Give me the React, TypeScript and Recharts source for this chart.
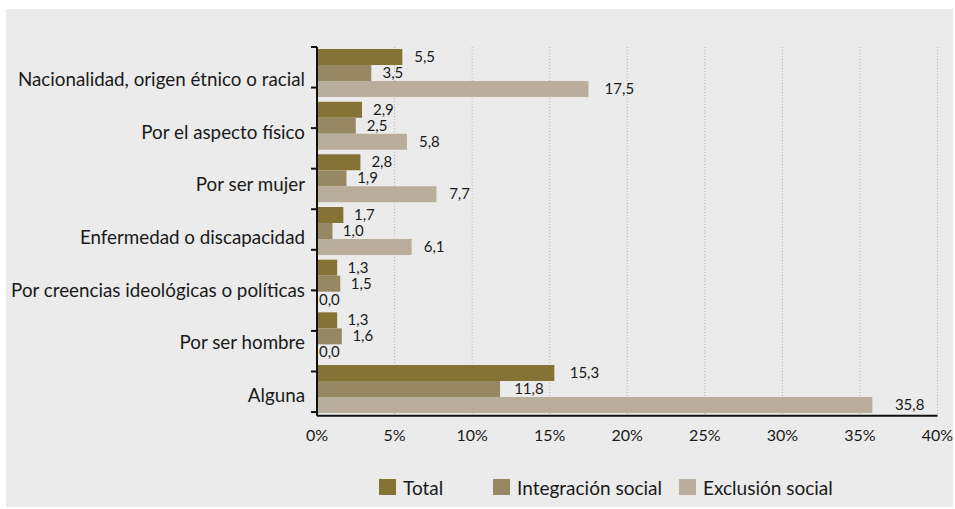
import React from "react";
import { BarChart, Bar, XAxis, YAxis, CartesianGrid, LabelList } from "recharts";

const categories = [
  "Nacionalidad, origen étnico o racial",
  "Por el aspecto físico",
  "Por ser mujer",
  "Enfermedad o discapacidad",
  "Por creencias ideológicas o políticas",
  "Por ser hombre",
  "Alguna",
];
const total = [5.5, 2.9, 2.8, 1.7, 1.3, 1.3, 15.3];
const integracion = [3.5, 2.5, 1.9, 1.0, 1.5, 1.6, 11.8];
const exclusion = [17.5, 5.8, 7.7, 6.1, 0.0, 0.0, 35.8];
const xTicks = [0, 5, 10, 15, 20, 25, 30, 35, 40];
const yTickMarks = [0, 1, 2, 3, 4, 5, 6, 7, 8, 9];

const series = [
  { key: "total", name: "Total", color: "#857336" },
  { key: "integracion", name: "Integración social", color: "#968862" },
  { key: "exclusion", name: "Exclusión social", color: "#b8ae9b" },
];

const data = categories.map((c, i) => ({
  name: c,
  total: total[i],
  integracion: integracion[i],
  exclusion: exclusion[i],
}));

const FONT = "Lato, 'Noto Sans', sans-serif";
const MARGIN = { top: 47, right: 17.5, bottom: 63.3, left: 0 };

const fmt = (v: number) => v.toFixed(1).replace(".", ",");

const CatTick = (props: any) => {
  const { x, y, payload } = props;
  return (
    <text x={x} y={y + 5} textAnchor="end" dominantBaseline="central" fontFamily={FONT} fontSize={18.8} fill="#1a1a1a">
      {payload.value}
    </text>
  );
};

const EmptyTick = () => <g />;

const ValueLabel = (props: any) => {
  const { x, y, width, height, value } = props;
  const v = Number(value);
  const w = Math.max(0, Number(width) || 0);
  const off = v === 0 ? 2 : 10 + v * 0.35;
  return (
    <text x={x + (v === 0 ? 0 : w) + off} y={y + height / 2 - 1} dominantBaseline="central" fontFamily={FONT} fontSize={15} fill="#1a1a1a">
      {fmt(v)}
    </text>
  );
};

const legendWidths = [114, 186, 170];

export default function App() {
  return (
    <div style={{ position: "absolute", left: 0, top: 0, width: 955, height: 509, background: "#ffffff", overflow: "hidden" }}>
      <div style={{ position: "absolute", left: 6, top: 9, width: 947, height: 498, background: "#ebebeb" }} />
      <div style={{ position: "absolute", left: 0, top: 0 }}>
        <BarChart
          width={955}
          height={509}
          data={data}
          layout="vertical"
          margin={MARGIN}
          barCategoryGap={2}
          barGap={0}
        >
          <CartesianGrid horizontal={false} stroke="#b3b3b3" strokeDasharray="1 2" />
          <XAxis
            type="number"
            domain={[0, 40]}
            ticks={xTicks}
            tickFormatter={(v: number) => `${v}%`}
            axisLine={{ stroke: "#111", strokeWidth: 2 }}
            tickLine={false}
            tickSize={0}
            tickMargin={14}
            height={30}
            tick={{ fontFamily: FONT, fontSize: 16, fill: "#1a1a1a" }}
          />
          <YAxis
            type="category"
            dataKey="name"
            width={317}
            axisLine={{ stroke: "#111", strokeWidth: 2 }}
            tickLine={false}
            tickSize={0}
            tickMargin={12}
            tick={<CatTick />}
            interval={0}
          />
          {series.map((s) => (
            <Bar key={s.key} dataKey={s.key} name={s.name} fill={s.color} minPointSize={0.01} isAnimationActive={false}>
              <LabelList dataKey={s.key} content={<ValueLabel />} />
            </Bar>
          ))}
        </BarChart>
      </div>
      <div style={{ position: "absolute", left: 0, top: 0, pointerEvents: "none" }}>
        <BarChart width={955} height={509} data={[]} margin={{ ...MARGIN, bottom: MARGIN.bottom + 30 }}>
          <XAxis type="number" hide domain={[0, 40]} />
          <YAxis
            type="number"
            domain={[0, 9.09]}
            allowDataOverflow
            reversed
            ticks={yTickMarks}
            interval={0}
            width={317}
            axisLine={false}
            tickLine={{ stroke: "#111", strokeWidth: 2 }}
            tickSize={6}
            tick={<EmptyTick />}
          />
        </BarChart>
      </div>
      <div style={{ position: "absolute", left: 379, top: 478, display: "flex", alignItems: "center", height: 18 }}>
        {series.map((s, i) => (
          <div key={s.key} style={{ display: "flex", alignItems: "center", width: legendWidths[i] }}>
            <div style={{ width: 17, height: 16, background: s.color, marginRight: 7 }} />
            <span style={{ fontFamily: FONT, fontSize: 19, color: "#1a1a1a", whiteSpace: "nowrap" }}>{s.name}</span>
          </div>
        ))}
      </div>
    </div>
  );
}
